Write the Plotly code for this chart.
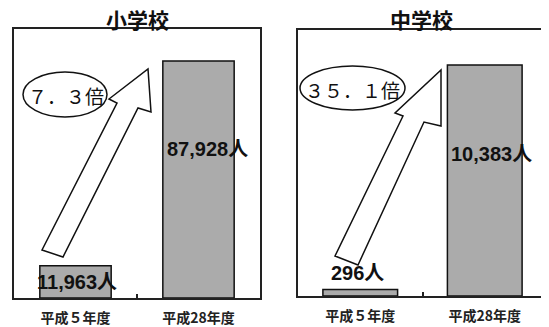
import plotly.graph_objects as go

# ---- data ----
categories = ["平成５年度", "平成28年度"]
elem_values = [11963, 87928]
junior_values = [296, 10383]
elem_labels = ["11,963人", "87,928人"]
junior_labels = ["296人", "10,383人"]
titles = ["小学校", "中学校"]
ratios = ["７．３倍", "３５．１倍"]

# the page body has an 8px margin; work in window pixels and compensate
OX, OY = 8, 8
W, H = 549 - OX, 327 - OY


def px(x):
    return (x - OX) / W


def py(y):
    return 1 - (y - OY) / H


CJK = "Noto Sans CJK JP, Noto Sans CJK SC, sans-serif"
LAT = "Liberation Sans, Arial, Noto Sans CJK JP, sans-serif"

bar_style = dict(color="#ababab", line=dict(color="#111111", width=1.5))

fig = go.Figure()
fig.add_trace(go.Bar(x=categories, y=elem_values, xaxis="x", yaxis="y",
                     marker=bar_style, width=0.58, showlegend=False, hoverinfo="skip"))
fig.add_trace(go.Bar(x=categories, y=junior_values, xaxis="x2", yaxis="y2",
                     marker=bar_style, width=0.6, showlegend=False, hoverinfo="skip"))

axis_common = dict(showgrid=False, zeroline=False, showline=True, mirror=True,
                   linewidth=2, linecolor="#222222", fixedrange=True)
xcommon = dict(axis_common, ticks="inside", tickson="boundaries", ticklen=4,
               tickwidth=1.5, tickcolor="#222222",
               tickfont=dict(family=CJK, size=14, color="#222222", weight="bold"),
               ticklabelstandoff=6, automargin=False)
ycommon = dict(axis_common, showticklabels=False, ticks="", automargin=False)

fig.update_layout(
    width=W, height=H,
    margin=dict(l=0, r=0, t=0, b=0),
    paper_bgcolor="white", plot_bgcolor="white",
    bargap=0.4,
    xaxis=dict(xcommon, domain=[px(14), px(260)], anchor="y"),
    yaxis=dict(ycommon, domain=[py(298), py(29)], anchor="x", range=[0, 99800]),
    xaxis2=dict(xcommon, domain=[px(298), px(547)], anchor="y2"),
    yaxis2=dict(ycommon, domain=[py(296), py(30)], anchor="x2", range=[0, 11956]),
)

shapes = []
# ellipses
shapes.append(dict(type="circle", xref="paper", yref="paper",
                   x0=px(23), x1=px(107), y0=py(117), y1=py(72),
                   line=dict(color="#111111", width=1.5), fillcolor="white"))
shapes.append(dict(type="circle", xref="paper", yref="paper",
                   x0=px(300), x1=px(405), y0=py(110), y1=py(66),
                   line=dict(color="#111111", width=1.5), fillcolor="white"))


def arrow_path(pts):
    return "M " + " L ".join(f"{px(x):.5f},{py(y):.5f}" for x, y in pts) + " Z"


left_arrow = [(42, 250), (63, 257), (138, 108), (151, 112), (148, 69), (109, 99), (117, 103)]
right_arrow = [(335, 256), (358, 265), (424, 122), (441, 126), (441, 70), (395, 113), (403, 116)]
for pts in (left_arrow, right_arrow):
    shapes.append(dict(type="path", xref="paper", yref="paper", path=arrow_path(pts),
                       line=dict(color="#111111", width=1.5), fillcolor="white"))
fig.update_layout(shapes=shapes)

ann = []
# panel titles
for t, xc in zip(titles, (137, 421)):
    ann.append(dict(text=t, xref="paper", yref="paper", x=px(xc), y=py(18.5),
                    showarrow=False, xanchor="center", yanchor="middle",
                    font=dict(family=CJK, size=21, color="#111111", weight="bold")))
# ratio texts
for t, (xc, yc) in zip(ratios, ((66, 95), (352, 89))):
    ann.append(dict(text=t, xref="paper", yref="paper", x=px(xc), y=py(yc),
                    showarrow=False, xanchor="center", yanchor="middle",
                    font=dict(family=CJK, size=19, color="#111111")))
# value labels anchored to bars
elem_shift = [(1, -16), (9, -88)]
junior_shift = [(-3, 16), (7, -89)]
for cat, v, lab, (dx, dy) in zip(categories, elem_values, elem_labels, elem_shift):
    ann.append(dict(text=lab, xref="x", yref="y", x=cat, y=v, xshift=dx, yshift=dy,
                    showarrow=False, xanchor="center", yanchor="middle",
                    font=dict(family=LAT, size=20, color="#111111", weight="bold")))
for cat, v, lab, (dx, dy) in zip(categories, junior_values, junior_labels, junior_shift):
    ann.append(dict(text=lab, xref="x2", yref="y2", x=cat, y=v, xshift=dx, yshift=dy,
                    showarrow=False, xanchor="center", yanchor="middle",
                    font=dict(family=LAT, size=20, color="#111111", weight="bold")))
fig.update_layout(annotations=ann)

fig.write_html("out.html")
